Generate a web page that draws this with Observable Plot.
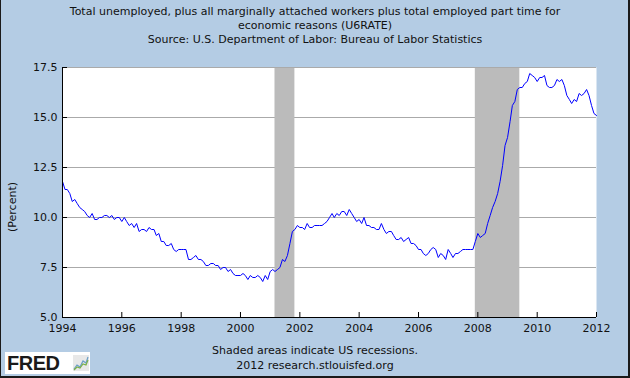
<!DOCTYPE html>
<html>
<head>
<meta charset="utf-8">
<script src="https://cdn.jsdelivr.net/npm/d3@7"></script>
<script src="https://cdn.jsdelivr.net/npm/@observablehq/plot@0.6"></script>
<style>
  html, body { margin: 0; padding: 0; background: #B4CCE4; }
  #chart { position: relative; width: 630px; height: 378px; background: #B4CCE4; overflow: hidden;
           font-family: "DejaVu Sans", Verdana, sans-serif; color: #111; }
  #chart svg { position: absolute; left: 0; top: 0; }
  .t { position: absolute; left: 0; width: 630px; text-align: center; font-size: 11px; line-height: 14px; white-space: nowrap; }
  #ylab { position: absolute; left: 12px; top: 207px; font-size: 11px; white-space: nowrap;
          transform: translate(-50%, -50%) rotate(-90deg); }
  #logo { position: absolute; left: 5px; top: 352px; width: 85px; height: 22px; background: #fff; }
  #logo span { position: absolute; left: 2px; top: 1px; font-family: "Liberation Sans", Arial, sans-serif;
               font-weight: bold; font-size: 20px; line-height: 20px; letter-spacing: -0.5px; color: #1a1a1a; }
  #logo svg { position: absolute; left: 68px; top: 3px; }
  .edge { position: absolute; background: #1a1a1a; }
</style>
</head>
<body>
<div id="chart">
  <div class="t" style="top:5px">Total unemployed, plus all marginally attached workers plus total employed part time for</div>
  <div class="t" style="top:19px">economic reasons (U6RATE)</div>
  <div class="t" style="top:33px">Source: U.S. Department of Labor: Bureau of Labor Statistics</div>
  <div id="ylab">(Percent)</div>
  <div class="t" style="top:344px">Shaded areas indicate US recessions.</div>
  <div class="t" style="top:359px">2012 research.stlouisfed.org</div>
  <div id="logo"><span>FRED</span>
    <svg width="16" height="16" viewBox="0 0 16 16">
      <rect x="0" y="0" width="16" height="16" fill="#e8e8e8"/>
      <polyline points="1,14 4,10 7,12 10,6 13,8 15,2" fill="none" stroke="#6a9ec8" stroke-width="1.2"/>
      <polyline points="1,15 4,12 7,13 10,9 13,10 15,5" fill="none" stroke="#7ab04a" stroke-width="1.2"/>
    </svg>
  </div>
  <div class="edge" style="left:0;top:0;width:1px;height:378px"></div>
  <div class="edge" style="right:0;top:0;width:2px;height:378px"></div>
  <div class="edge" style="left:0;bottom:0;width:630px;height:2px"></div>
</div>
<script>
// U6 unemployment rate, monthly, Jan 1994 - Jan 2012 (percent)
const startYear = 1994;
const u6 = [
  11.8, 11.4, 11.4, 11.2, 10.8, 10.9, 10.7, 10.5, 10.4, 10.3, 10.1, 10.0, // 1994
  10.2, 9.9, 9.9, 10.0, 10.0, 10.1, 10.1, 10.0, 10.1, 9.9, 10.0, 10.0,     // 1995
  9.8, 10.0, 9.8, 9.6, 9.7, 9.5, 9.7, 9.3, 9.4, 9.4, 9.3, 9.5,             // 1996
  9.4, 9.4, 9.1, 9.2, 8.8, 8.8, 8.6, 8.6, 8.7, 8.4, 8.3, 8.4,              // 1997
  8.4, 8.4, 8.4, 7.9, 7.9, 8.0, 8.1, 7.9, 7.9, 7.8, 7.6, 7.6,              // 1998
  7.7, 7.7, 7.6, 7.6, 7.4, 7.5, 7.5, 7.3, 7.4, 7.2, 7.1, 7.1,              // 1999
  7.1, 7.2, 7.1, 6.9, 7.1, 7.0, 7.0, 7.1, 7.0, 6.8, 7.1, 6.9,              // 2000
  7.3, 7.4, 7.3, 7.4, 7.5, 7.9, 7.8, 8.1, 8.7, 9.3, 9.4, 9.6,              // 2001
  9.5, 9.5, 9.4, 9.7, 9.5, 9.5, 9.6, 9.6, 9.6, 9.6, 9.7, 9.8,              // 2002
  10.0, 10.2, 10.0, 10.2, 10.1, 10.3, 10.3, 10.1, 10.4, 10.2, 10.0, 9.8,   // 2003
  9.9, 9.7, 10.0, 9.6, 9.6, 9.5, 9.5, 9.4, 9.4, 9.7, 9.4, 9.2,             // 2004
  9.3, 9.3, 9.1, 8.9, 8.9, 9.0, 8.8, 8.9, 9.0, 8.7, 8.7, 8.6,              // 2005
  8.4, 8.4, 8.2, 8.1, 8.2, 8.4, 8.5, 8.4, 8.0, 8.2, 8.1, 7.9,              // 2006
  8.4, 8.2, 8.0, 8.2, 8.2, 8.3, 8.4, 8.4, 8.4, 8.4, 8.4, 8.8,              // 2007
  9.2, 9.0, 9.1, 9.2, 9.7, 10.1, 10.5, 10.8, 11.2, 11.8, 12.6, 13.6,       // 2008
  14.0, 14.8, 15.6, 15.8, 16.4, 16.5, 16.5, 16.7, 16.8, 17.2, 17.1, 17.0,  // 2009
  16.8, 17.0, 17.0, 17.1, 16.6, 16.5, 16.5, 16.6, 16.9, 16.8, 16.9, 16.6,  // 2010
  16.1, 15.9, 15.7, 15.9, 15.8, 16.2, 16.1, 16.2, 16.4, 16.1, 15.6, 15.2,  // 2011
  15.1                                                                     // 2012
];
const recessionStart = ["2001-03-01", "2007-12-01"];
const recessionEnd   = ["2001-11-01", "2009-06-01"];
const yTicks = [5.0, 7.5, 10.0, 12.5, 15.0, 17.5];
const xTickYears = [1994, 1996, 1998, 2000, 2002, 2004, 2006, 2008, 2010, 2012];

const data = u6.map((v, i) => ({date: new Date(Date.UTC(startYear, i, 1)), value: v}));
const recessions = recessionStart.map((s, i) => ({start: new Date(s), end: new Date(recessionEnd[i])}));
const xTicks = xTickYears.map(y => new Date(Date.UTC(y, 0, 1)));
const xDomain = [xTicks[0], xTicks[xTicks.length - 1]];

const chart = Plot.plot({
  width: 630,
  height: 378,
  marginTop: 67,
  marginBottom: 61,
  marginLeft: 62,
  marginRight: 34,
  style: {background: "transparent", fontFamily: "DejaVu Sans, Verdana, sans-serif", fontSize: "11px", color: "#111", overflow: "visible"},
  x: {type: "utc", domain: xDomain},
  y: {domain: [yTicks[0], yTicks[yTicks.length - 1]]},
  marks: [
    Plot.frame({fill: "white", stroke: null}),
    Plot.gridY(yTicks.slice(1, -1), {stroke: "#aaaaaa", strokeOpacity: 1}),
    Plot.rectX(recessions, {x1: "start", x2: "end", fill: "#bbbbbb"}),
    Plot.gridY(yTicks.slice(-1), {stroke: "#aaaaaa", strokeOpacity: 1}),
    Plot.lineY(data, {x: "date", y: "value", stroke: "#0000ff", strokeWidth: 1}),
    Plot.ruleX([xDomain[0]], {stroke: "#000"}),
    Plot.ruleY([yTicks[0]], {stroke: "#000"}),
    Plot.axisY({ticks: yTicks, tickFormat: d3.format(".1f"), tickSize: -5, tickPadding: 10, label: null, stroke: "#000"}),
    Plot.axisX({ticks: xTicks, tickFormat: d3.utcFormat("%Y"), tickSize: -5, tickPadding: 12, label: null, stroke: "#000"})
  ]
});
document.getElementById("chart").insertBefore(chart, document.getElementById("chart").firstChild);
</script>
</body>
</html>
